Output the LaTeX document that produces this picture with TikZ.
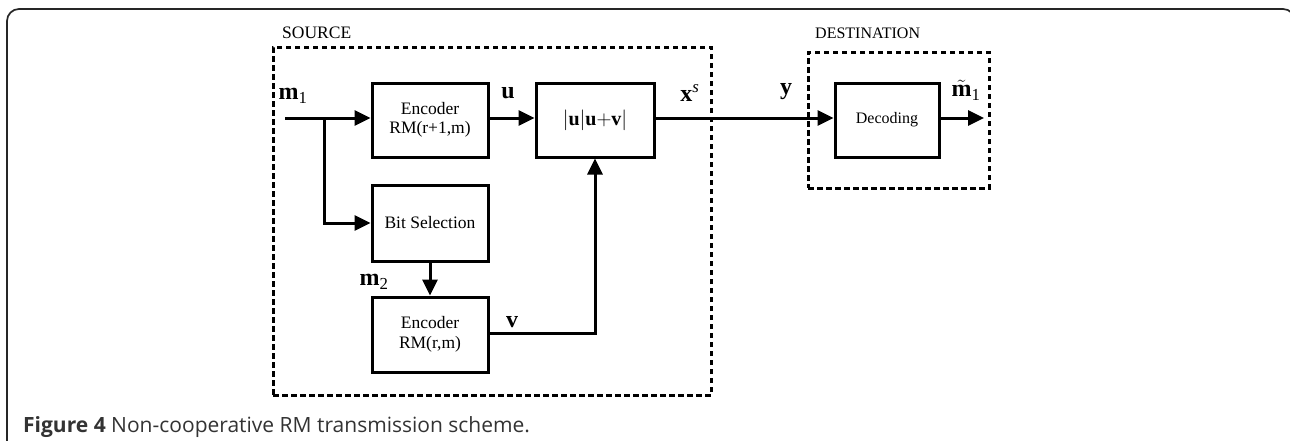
\documentclass[tikz,border=0pt]{standalone}
\usepackage{fontspec}
\setmainfont{Liberation Serif}
\newfontfamily\capfont{Open Sans}
\usetikzlibrary{arrows.meta,positioning}
\begin{document}
\begin{tikzpicture}[x=1pt,y=-1pt,
  blk/.style={draw,line width=3pt,minimum width=116pt,minimum height=74pt,inner sep=0pt,align=center,font=\fontsize{17.5}{19.5}\selectfont},
  grp/.style={draw,line width=3pt,dash pattern=on 5.5pt off 3.5pt},
  conn/.style={line width=3pt},
  arr/.style={conn,-{Triangle[length=16pt,width=15pt]}},
  lbl/.style={font=\fontsize{24}{26}\selectfont,inner sep=0pt},
  title/.style={font=\fontsize{17}{19}\selectfont,inner sep=0pt,anchor=west},
]
\useasboundingbox (0,0) rectangle (1290,440);
% outer frame
\draw[line width=1.7pt,black!85,rounded corners=12pt] (7,445) -- (7,9) -- (1295,9) -- (1295,445);
% groups
\node[grp,minimum width=438pt,minimum height=348pt,inner sep=0pt] (src) at (492,221) {};
\node[grp,minimum width=181pt,minimum height=136pt,inner sep=0pt] (dst) at (898.5,120) {};
\node[title,font=\fontsize{17.5}{19}\selectfont] (srct) at (282,33) {SOURCE};
\node[title,font=\fontsize{16}{18}\selectfont] (dstt) at (815,33) {DESTINATION};
% blocks
\node[blk] (enc1) at (430,120) {Encoder\\RM(r+1,m)};
\node[blk,minimum width=118pt,font=\fontsize{20}{22}\selectfont] (uv) at (595,120) {$|\mathbf{u}|\mathbf{u}\mathrm{+}\mathbf{v}|$};
\node[blk,minimum height=76pt] (bit) at (430,223) {Bit Selection};
\node[blk,minimum height=75pt] (enc2) at (430,334.5) {Encoder\\RM(r,m)};
\node[blk,minimum width=104pt,font=\fontsize{16}{18}\selectfont] (dec) at (887,120) {Decoding};
% coordinates
\coordinate (in) at (285,118);
\coordinate (br) at (324,118);
\coordinate (vc) at (595,333);
\coordinate (out) at (984,118);
% connectors
\draw[arr] (in) -- (enc1.west |- in);
\draw[arr] (br) |- (bit.west);
\draw[arr] (enc1.east |- in) -- (uv.west |- in);
\draw[arr] (bit.south) -- (enc2.north);
\draw[arr] (enc2.east |- vc) -- (vc) -- (uv.south);
\draw[arr] (uv.east |- in) -- (dec.west |- in);
\draw[arr] (dec.east |- in) -- (out);
% labels
\node[lbl] (m1) at (293,96) {$\mathbf{m}_{\mathrm{1}}$};
\node[lbl] (ul) at (508,93) {$\mathbf{u}$};
\node[lbl] (xs) at (690,93) {$\mathbf{x}^{\mathit{s}}$};
\node[lbl] (yl) at (786,92) {$\mathbf{y}$};
\node[lbl] (mt) at (966,90) {$\tilde{\mathbf{m}}_{\mathrm{1}}$};
\node[lbl] (m2) at (374,282) {$\mathbf{m}_{\mathrm{2}}$};
\node[lbl] (vl) at (512,322) {$\mathbf{v}$};
% caption
\node[anchor=base west,inner sep=0pt,font=\capfont\fontsize{21}{23}\selectfont,text=black!80] (cap) at (23,432) {\textbf{Figure 4} Non-cooperative RM transmission scheme.};
\end{tikzpicture}
\end{document}
